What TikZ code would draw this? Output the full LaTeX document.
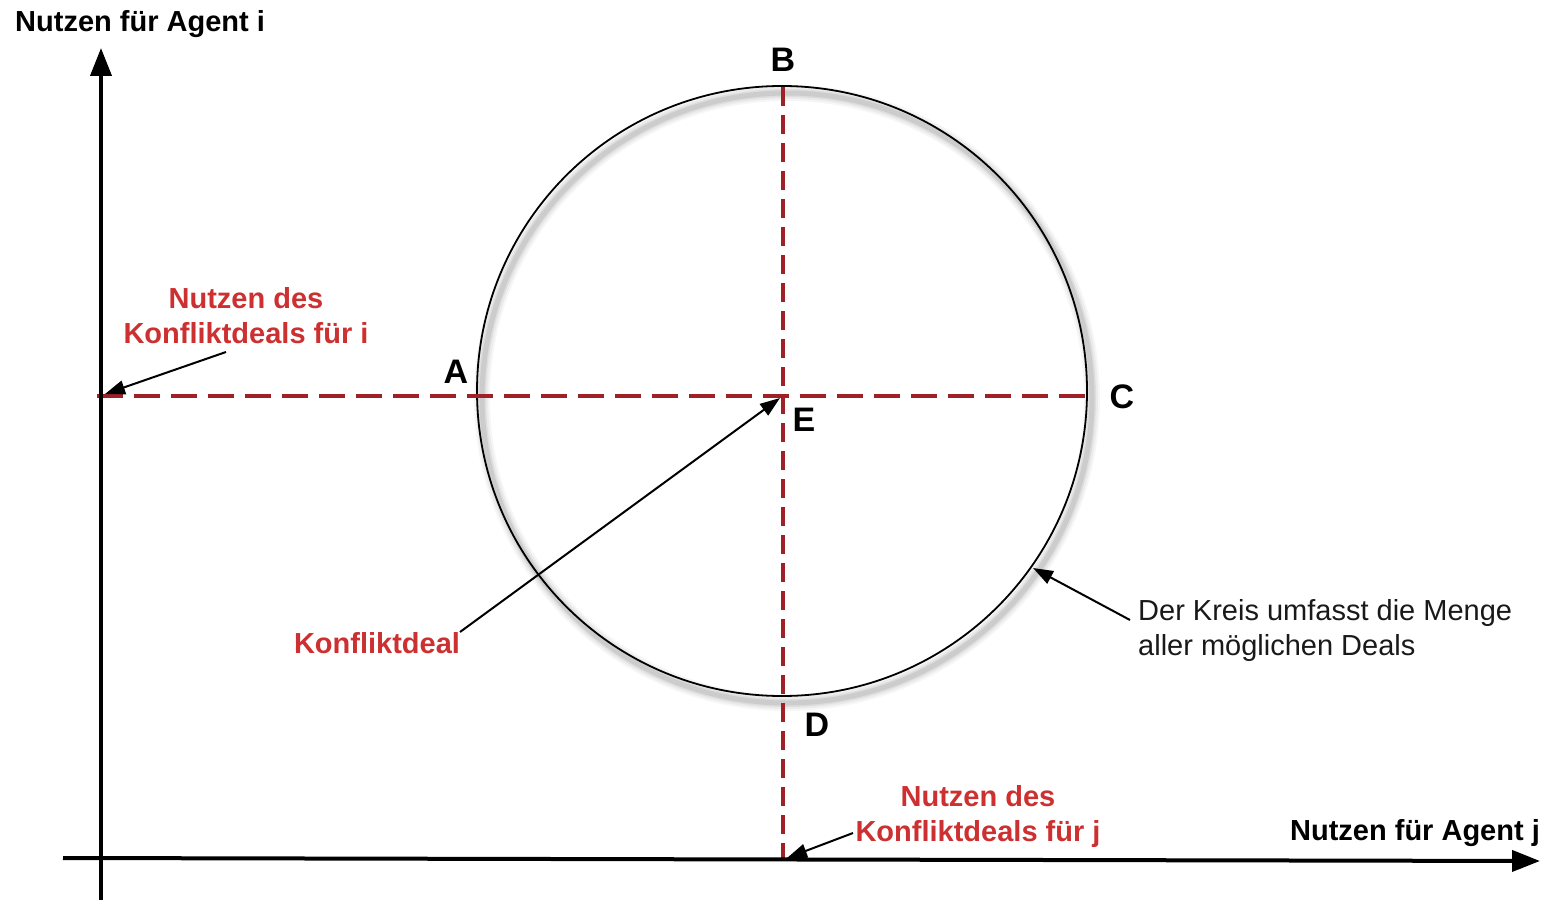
\documentclass[tikz,border=0pt]{standalone}
\usepackage{fontspec}
\setmainfont{Liberation Sans}
\usetikzlibrary{arrows.meta}
\definecolor{dashred}{RGB}{160,32,40}
\definecolor{txtred}{RGB}{205,48,48}
\begin{document}
\begin{tikzpicture}[x=1pt,y=-1pt,
  lbl/.style={font=\fontsize{29}{35}\selectfont\bfseries, text=black, inner sep=0pt},
  letter/.style={font=\fontsize{34}{40}\selectfont\bfseries, text=black, inner sep=0pt},
  redlbl/.style={font=\fontsize{29}{35}\selectfont\bfseries, text=txtred, align=center, inner sep=0pt},
  note/.style={font=\fontsize{29}{35}\selectfont, text=black!90, align=left, inner sep=0pt},
  axis/.style={line width=4pt, -{Triangle[length=28pt,width=21pt]}},
  pointer/.style={line width=2pt, -{Triangle[length=20pt,width=14pt]}},
  dashh/.style={draw=dashred, line width=4pt, dash pattern=on 26pt off 11pt},
  dashv/.style={draw=dashred, line width=3.5pt, dash pattern=on 19pt off 9pt}]
\useasboundingbox (0,0) rectangle (1546,901);
% coordinates
\coordinate (Ecen) at (782,391);
\coordinate (E) at (783,396);
\coordinate (Pi) at (101,396);
\coordinate (Pj) at (783,859);
\coordinate (Hstart) at (97,396);
\coordinate (Hend) at (1088,396);
\coordinate (Vstart) at (783,87);
\coordinate (Vend) at (783,858);
% circle shadow
\foreach \w/\o in {16/0.035,12/0.045,8/0.06,5/0.08}
  \draw[black, opacity=\o, line width=\w pt] ([shift={(5,7)}]Ecen) circle (305);
\draw[black, line width=1.8pt] (Ecen) circle (305);
% dashed lines
\draw[dashh] (Hstart) -- (Hend);
\draw[dashv] (Vstart) -- (Vend);
% axes
\coordinate (Ybot) at (101,900);
\coordinate (Ytop) at (101,48);
\coordinate (Xleft) at (63,858);
\coordinate (Xright) at (1540,861);
\draw[axis] (Ybot) -- (Ytop);
\draw[axis] (Xleft) -- (Xright);
% labels
\node[lbl, anchor=base west] (yl) at (15,32) {Nutzen für Agent i};
\node[lbl] (xl) at (1415,833) {Nutzen für Agent j};
\node[letter] (B) at (783,60) {B};
\node[letter] (A) at (456,372) {A};
\node[letter] (C) at (1122,397) {C};
\node[letter] (El) at (804,420) {E};
\node[letter] (D) at (817,725) {D};
\node[redlbl] (ni) at (246,316) {Nutzen des\\Konfliktdeals für i};
\node[redlbl] (kd) at (377,643) {Konfliktdeal};
\node[redlbl] (nj) at (978,816) {Nutzen des\\Konfliktdeals für j};
\node[note, anchor=west] (kreis) at (1138,630) {Der Kreis umfasst die Menge\\aller möglichen Deals};
% pointers
\coordinate (niS) at (226,352);
\coordinate (kdS) at (460,632);
\coordinate (njS) at (853,833);
\coordinate (krS) at (1130,620);
\coordinate (krE) at (1033,568);
\draw[pointer] (niS) -- ([shift={(4,-2)}]Pi);
\draw[pointer] (kdS) -- ([shift={(-3,2)}]E);
\draw[pointer] (njS) -- ([shift={(4,-1)}]Pj);
\draw[pointer] (krS) -- (krE);
\end{tikzpicture}
\end{document}
